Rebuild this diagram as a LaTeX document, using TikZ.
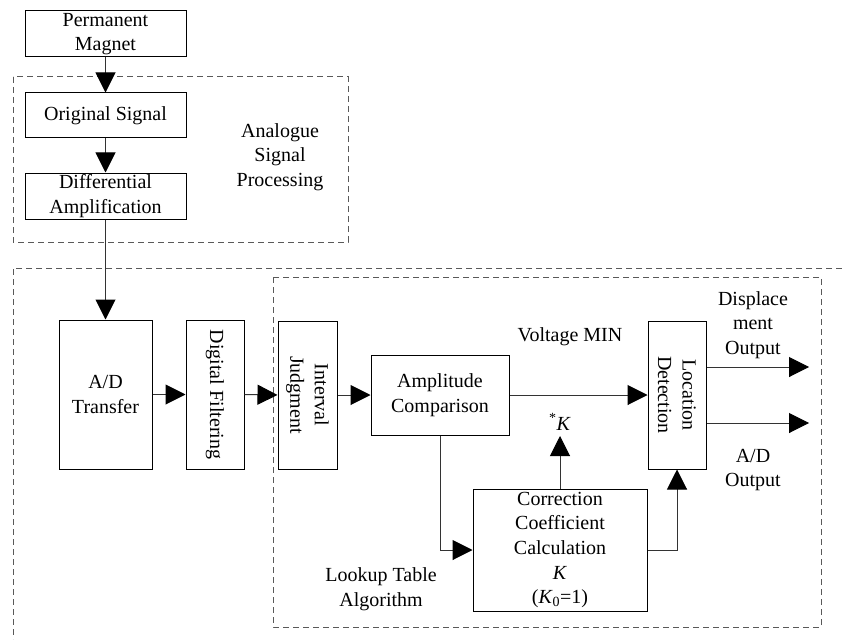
\documentclass[tikz,border=0pt]{standalone}
\usepackage{fontspec}
\setmainfont{Liberation Serif}
\usetikzlibrary{arrows.meta}
\begin{document}
\begin{tikzpicture}[x=1pt,y=-1pt,
  every node/.style={font=\fontsize{20}{24.5}\selectfont, align=center, inner sep=0pt},
  blk/.style={draw=black, line width=1pt, fill=white},
  vblk/.style={blk, rotate=-90},
  conn/.style={draw=black!80, line width=1pt},
  arr/.style={conn, -{Triangle[length=20pt,width=20pt,color=black]}},
  grp/.style={draw=black!65, line width=1pt, dash pattern=on 6pt off 4pt}]
\useasboundingbox (0,0) rectangle (842,639);
% group frames
\draw[grp] (13,77) rectangle (348,242);
\draw[grp] (842,268) -- (13,268) -- (13,639);
\draw[grp] (273,277) rectangle (821,627);
% blocks
\node[blk, minimum width=161pt, minimum height=46pt] (pm) at (105.5,34) {Permanent\\Magnet};
\node[blk, minimum width=161pt, minimum height=45pt] (os) at (105.5,115.5) {Original Signal};
\node[blk, minimum width=161pt, minimum height=46pt] (da) at (105.5,196) {Differential\\Amplification};
\node (asp) at (280,157) {Analogue\\Signal\\Processing};
\node[blk, minimum width=93pt, minimum height=149pt] (ad) at (105.5,394.5) {A/D\\Transfer};
\node[vblk, minimum width=149pt, minimum height=58pt] (df) at (215,394.5) {Digital Filtering};
\node[vblk, minimum width=148pt, minimum height=59pt] (ij) at (307.5,395) {Interval\\Judgment};
\node[blk, minimum width=138pt, minimum height=80pt] (ac) at (440,395) {Amplitude\\Comparison};
\node[vblk, minimum width=148pt, minimum height=58pt] (ld) at (677,395) {Location\\Detection};
\node[blk, minimum width=174pt, minimum height=122pt] (cc) at (560,550) {Correction\\Coefficient\\Calculation\\\textit{K}\\(\textit{K}\textsubscript{0}=1)};
% labels
\node (vmin) at (570,337) {Voltage MIN};
\node (kstar) at (560,422) {\textsuperscript{*}\textit{K}};
\node (dout) at (753,325) {Displace\\ment\\Output};
\node (adout) at (753,470) {A/D\\Output};
\node (lta) at (381,589) {Lookup Table\\Algorithm};
% coordinates
\coordinate (kend) at (560,436);
\coordinate (o1) at (809,367);
\coordinate (o2) at (809,423);
% connectors (rotated blocks: south = left side, north = right side, east = bottom)
\draw[arr] (pm.south) -- (os.north);
\draw[arr] (os.south) -- (da.north);
\draw[arr] (da.south) -- (ad.north);
\draw[arr] (ad.east) -- (df.south);
\draw[arr] (df.north) -- (ij.south);
\draw[arr] (ij.north) -- (ac.west);
\draw[arr] (ac.east) -- (ld.south);
\draw[arr] (ac.south) |- (cc.west);
\draw[arr] (cc.north) -- (kend);
\draw[arr] (cc.east) -| (ld.east);
\draw[arr] (ld.north |- o1) -- (o1);
\draw[arr] (ld.north |- o2) -- (o2);
\end{tikzpicture}
\end{document}
